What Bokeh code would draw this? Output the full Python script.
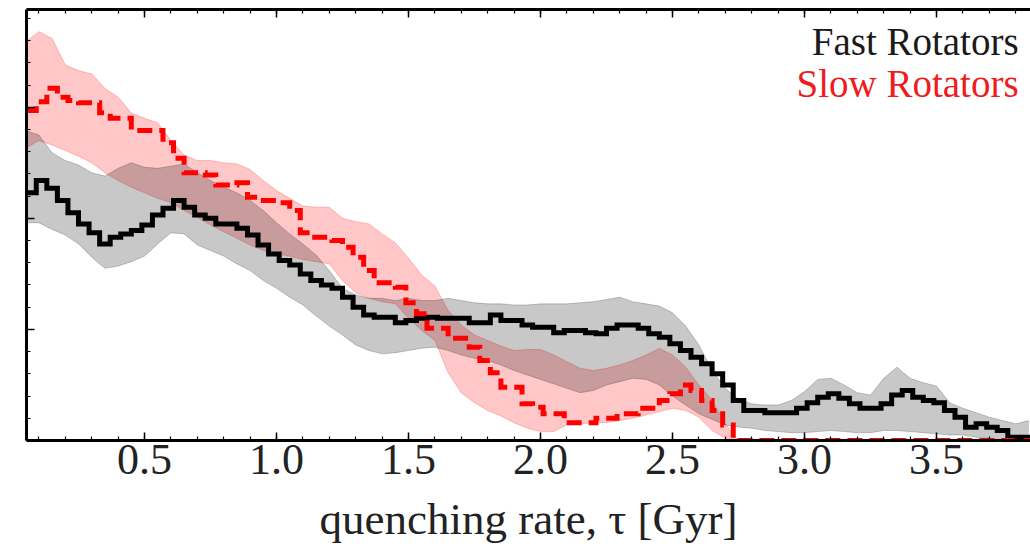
import numpy as np
from bokeh.plotting import figure
from bokeh.models import (Range1d, LinearAxis, SingleIntervalTicker, Label,
                          PrintfTickFormatter, CustomJSTickFormatter)
from bokeh.embed import file_html
from bokeh.resources import INLINE

# ---------------- data ----------------
# band grid (quenching rate, Gyr)
tau_grid = np.round(np.arange(0.05, 3.851, 0.05), 2)

fast_band_upper = [2.79, 2.75, 2.59, 2.52, 2.48, 2.41, 2.38, 2.45, 2.50, 2.46,
                   2.45, 2.47, 2.49, 2.41, 2.34, 2.28, 2.23, 2.16, 2.07, 1.96,
                   1.86, 1.77, 1.67, 1.53, 1.37, 1.31, 1.28, 1.28, 1.26, 1.28,
                   1.26, 1.26, 1.28, 1.26, 1.24, 1.23, 1.23, 1.22, 1.22, 1.23,
                   1.23, 1.23, 1.24, 1.25, 1.27, 1.29, 1.25, 1.23, 1.21, 1.15,
                   1.03, 0.86, 0.63, 0.47, 0.37, 0.33, 0.32, 0.32, 0.36, 0.44,
                   0.55, 0.56, 0.50, 0.43, 0.41, 0.56, 0.66, 0.56, 0.52, 0.49,
                   0.34, 0.29, 0.25, 0.21, 0.18, 0.15, 0.18]
fast_band_lower = [1.96, 1.96, 1.90, 1.85, 1.77, 1.65, 1.55, 1.57, 1.61, 1.66,
                   1.77, 1.87, 1.86, 1.76, 1.71, 1.66, 1.59, 1.53, 1.44, 1.37,
                   1.29, 1.22, 1.12, 1.03, 0.95, 0.86, 0.81, 0.78, 0.79, 0.81,
                   0.83, 0.84, 0.81, 0.77, 0.74, 0.72, 0.68, 0.63, 0.59, 0.55,
                   0.51, 0.47, 0.43, 0.45, 0.50, 0.53, 0.56, 0.55, 0.50, 0.40,
                   0.32, 0.24, 0.19, 0.14, 0.12, 0.11, 0.09, 0.08, 0.07, 0.07,
                   0.08, 0.09, 0.08, 0.07, 0.07, 0.09, 0.09, 0.08, 0.07, 0.06,
                   0.05, 0.05, 0.03, 0.02, 0.0, 0.0, 0.0]
slow_band_upper = [3.59, 3.68, 3.62, 3.38, 3.33, 3.30, 3.17, 3.09, 2.95, 2.90,
                   2.86, 2.70, 2.57, 2.52, 2.52, 2.50, 2.49, 2.44, 2.34, 2.25,
                   2.18, 2.11, 2.10, 2.10, 2.00, 1.97, 1.95, 1.86, 1.78, 1.64,
                   1.49, 1.39, 1.17, 1.04, 0.95, 0.90, 0.85, 0.81, 0.82, 0.82,
                   0.77, 0.71, 0.65, 0.63, 0.65, 0.68, 0.72, 0.77, 0.83, 0.77,
                   0.66, 0.50, 0.36, 0.15, 0.0, 0.0, 0.0, 0.0, 0.0, 0.0,
                   0.0, 0.0, 0.0, 0.0, 0.0, 0.0, 0.0, 0.0, 0.0, 0.0,
                   0.0, 0.0, 0.0, 0.0, 0.0, 0.0, 0.0]
slow_band_lower = [2.63, 2.70, 2.66, 2.61, 2.56, 2.50, 2.41, 2.34, 2.28, 2.23,
                   2.18, 2.14, 2.07, 2.01, 1.94, 1.88, 1.82, 1.76, 1.71, 1.68,
                   1.66, 1.63, 1.61, 1.59, 1.44, 1.33, 1.28, 1.25, 1.23, 1.10,
                   0.99, 0.90, 0.61, 0.43, 0.34, 0.27, 0.22, 0.16, 0.11, 0.08,
                   0.08, 0.14, 0.15, 0.16, 0.16, 0.18, 0.20, 0.23, 0.26, 0.29,
                   0.27, 0.21, 0.09, 0.02, 0.0, 0.0, 0.0, 0.0, 0.0, 0.0,
                   0.0, 0.0, 0.0, 0.0, 0.0, 0.0, 0.0, 0.0, 0.0, 0.0,
                   0.0, 0.0, 0.0, 0.0, 0.0, 0.0, 0.0]

# histogram bins (left edges from 0.05, width 0.04 Gyr)
bin_edges = np.round(np.arange(0.05, 3.8901, 0.04), 2)

fast_hist = [2.23, 2.34, 2.27, 2.16, 2.05, 1.95, 1.87, 1.77, 1.83, 1.86,
             1.89, 1.94, 2.03, 2.09, 2.16, 2.10, 2.03, 2.00, 1.95, 1.95,
             1.91, 1.85, 1.76, 1.68, 1.62, 1.58, 1.50, 1.44, 1.40, 1.37,
             1.29, 1.20, 1.13, 1.11, 1.11, 1.06, 1.08, 1.10, 1.11, 1.10,
             1.10, 1.10, 1.06, 1.06, 1.13, 1.08, 1.08, 1.04, 1.02, 1.02,
             0.97, 0.99, 0.99, 0.97, 0.96, 1.01, 1.04, 1.04, 1.01, 0.96,
             0.93, 0.87, 0.81, 0.75, 0.69, 0.60, 0.50, 0.36, 0.27, 0.27,
             0.25, 0.25, 0.25, 0.29, 0.34, 0.39, 0.42, 0.38, 0.33, 0.29,
             0.29, 0.33, 0.41, 0.45, 0.39, 0.36, 0.34, 0.27, 0.21, 0.12,
             0.15, 0.12, 0.09, 0.03, 0.03, 0.03]
slow_hist = [2.97, 3.05, 3.17, 3.09, 3.06, 3.04, 3.04, 2.95, 2.90, 2.90,
             2.79, 2.79, 2.79, 2.68, 2.54, 2.41, 2.41, 2.39, 2.30, 2.30,
             2.32, 2.19, 2.16, 2.16, 2.14, 2.07, 1.87, 1.83, 1.83, 1.80,
             1.74, 1.65, 1.53, 1.42, 1.42, 1.38, 1.24, 1.14, 1.01, 1.01,
             0.92, 0.92, 0.84, 0.72, 0.61, 0.48, 0.48, 0.33, 0.30, 0.24,
             0.24, 0.16, 0.16, 0.16, 0.20, 0.20, 0.24, 0.24, 0.29, 0.29,
             0.36, 0.42, 0.50, 0.45, 0.36, 0.27, 0.14, 0.0, 0.0, 0.0,
             0.0, 0.0, 0.0, 0.0, 0.0, 0.0, 0.0, 0.0, 0.0, 0.0,
             0.0, 0.0, 0.0, 0.0, 0.0, 0.0, 0.0, 0.0, 0.0, 0.0,
             0.0, 0.0, 0.0, 0.0, 0.0, 0.0]

legend_labels = ["Fast Rotators", "Slow Rotators"]
x_label = "quenching rate, \u03c4 [Gyr]"

# ---------------- figure ----------------
SERIF = "Liberation Serif"
p = figure(frame_width=1004, frame_height=431,
           x_range=Range1d(0.053, 3.856), y_range=Range1d(0, 3.88),
           output_backend="svg", toolbar_location=None,
           min_border_left=26, min_border_right=0, min_border_top=9, min_border_bottom=0)
p.outline_line_color = None
p.grid.visible = False
p.background_fill_color = "white"
p.border_fill_color = "white"

xt = SingleIntervalTicker(interval=0.5, num_minor_ticks=5)
yt = SingleIntervalTicker(interval=1.0, num_minor_ticks=5)
blank = CustomJSTickFormatter(code="return ''")

def style_axis(ax, show_labels):
    ax.axis_line_width = 3
    ax.axis_line_color = "black"
    ax.major_tick_in = 8
    ax.major_tick_out = 0
    ax.minor_tick_in = 4
    ax.minor_tick_out = 0
    ax.major_tick_line_width = 1.5
    ax.minor_tick_line_width = 1.2
    ax.major_tick_line_color = "black"
    ax.minor_tick_line_color = "black"
    if not show_labels:
        ax.formatter = blank
        ax.major_label_standoff = 0

xa = p.xaxis[0]
xa.ticker = xt
xa.formatter = PrintfTickFormatter(format="%.1f")
style_axis(xa, True)
xa.major_label_text_font = SERIF
xa.major_label_text_font_size = "44px"
xa.major_label_text_color = "#222222"
xa.major_label_standoff = 4
xa.axis_label = x_label
xa.axis_label_text_font = SERIF
xa.axis_label_text_font_size = "45px"
xa.axis_label_text_font_style = "normal"
xa.axis_label_text_color = "#222222"
xa.axis_label_standoff = 17

ya = p.yaxis[0]
ya.ticker = yt
style_axis(ya, False)

top = LinearAxis(ticker=xt)
style_axis(top, False)
p.add_layout(top, "above")

# bands (slow first, fast on top)
p.varea(x=tau_grid, y1=slow_band_lower, y2=slow_band_upper, fill_color="red", fill_alpha=0.22)
p.line(tau_grid, slow_band_upper, line_color="red", line_alpha=0.22, line_width=1)
p.line(tau_grid, slow_band_lower, line_color="red", line_alpha=0.22, line_width=1)
p.varea(x=tau_grid, y1=fast_band_lower, y2=fast_band_upper, fill_color="black", fill_alpha=0.215)
p.line(tau_grid, fast_band_upper, line_color="black", line_alpha=0.2, line_width=1)
p.line(tau_grid, fast_band_lower, line_color="black", line_alpha=0.2, line_width=1)

# step histograms
fx = list(bin_edges)
fy = list(fast_hist) + [fast_hist[-1]]
sy = list(slow_hist) + [slow_hist[-1]]
p.step(fx, fy, mode="after", line_color="black", line_width=5, line_join="miter")
p.step(fx, sy, mode="after", line_color="red", line_width=5, line_dash="15 7", line_join="miter")

# legend texts
p.add_layout(Label(x=3.811, y=3.59, text=legend_labels[0], text_align="right",
                   text_baseline="alphabetic", text_font=SERIF, text_font_size="39px",
                   text_color="#1a1a1a"))
p.add_layout(Label(x=3.811, y=3.21, text=legend_labels[1], text_align="right",
                   text_baseline="alphabetic", text_font=SERIF, text_font_size="39px",
                   text_color="#ee1c1c"))

open("out.html", "w").write(file_html(p, INLINE))
